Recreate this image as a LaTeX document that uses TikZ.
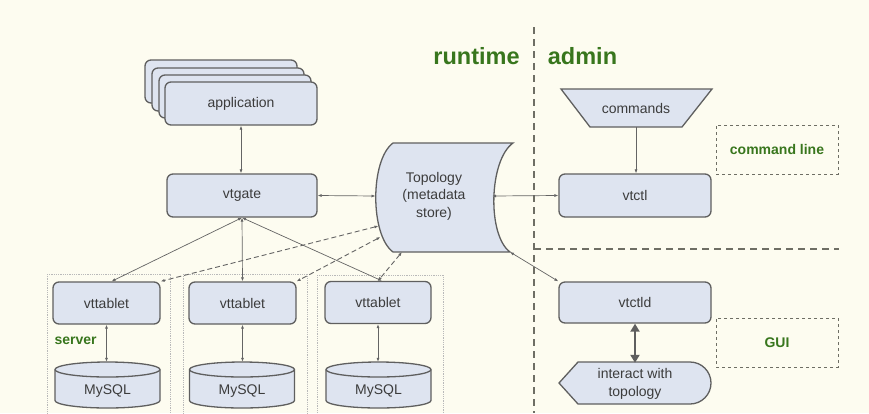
\documentclass[tikz,border=0pt]{standalone}
\usepackage{fontspec}
\setmainfont{Liberation Sans}
\usetikzlibrary{arrows.meta}
\definecolor{bg}{RGB}{253,252,240}
\definecolor{boxfill}{RGB}{222,228,240}
\definecolor{boxline}{RGB}{95,95,95}
\definecolor{txt}{RGB}{60,60,60}
\definecolor{grn}{RGB}{56,118,29}
\definecolor{conncol}{RGB}{100,100,100}
\definecolor{divcol}{RGB}{110,110,100}
\begin{document}
\begin{tikzpicture}[x=1pt,y=-1pt,
  every node/.style={font=\fontsize{14}{17.5}\selectfont, text=txt},
  box/.style={draw=boxline, fill=boxfill, rounded corners=6pt, line width=1.3pt, inner sep=0pt},
  shapeline/.style={draw=boxline, fill=boxfill, line width=1.3pt},
  conn/.style={draw=conncol, line width=0.7pt, {Latex[length=4pt,width=3pt]}-{Latex[length=4pt,width=3pt]}},
  dconn/.style={conn, dash pattern=on 5pt off 3pt, line width=0.9pt},
  grnlabel/.style={font=\bfseries\fontsize{14}{17}\selectfont, text=grn},
  bigtitle/.style={font=\bfseries\fontsize{23.5}{28}\selectfont, text=grn},
  grp/.style={draw=gray!55, densely dotted, line width=0.8pt},
  divider/.style={draw=divcol, line width=1.3pt, dash pattern=on 7pt off 5pt},
  notebox/.style={draw=divcol, dashed, line width=0.7pt, minimum width=122pt, minimum height=49pt, inner sep=0pt}
]
\fill[bg] (0,0) rectangle (869,413);
\useasboundingbox (0,0) rectangle (869,413);
\clip (0,0) rectangle (869,413);

% server groups
\draw[grp] (47,274) rectangle (170,425);
\draw[grp] (183,274) rectangle (307,425);
\draw[grp] (317,275) rectangle (443,425);
\node[grnlabel, anchor=west] (server) at (51,341) {server};

% titles and dividers
\node[bigtitle] (runtime) at (476.5,56) {runtime};
\node[bigtitle] (admin) at (582.5,56) {admin};
\coordinate (dTop) at (534,27);
\coordinate (dBot) at (534,413);
\coordinate (hL) at (534,249);
\coordinate (hR) at (839,249);
\draw[divider] (dTop) -- (dBot);
\draw[divider] (hL) -- (hR);

% application stack
\node[box, minimum width=152pt, minimum height=43pt] (app3) at (221,81.5) {};
\node[box, minimum width=152pt, minimum height=43pt] (app2) at (228,89.5) {};
\node[box, minimum width=152pt, minimum height=43pt] (app1) at (235,96.5) {};
\node[box, minimum width=152pt, minimum height=43pt] (app) at (241,103.5) {application};

\node[box, minimum width=150pt, minimum height=43pt] (vtgate) at (242,195.5) {vtgate};

% topology
\path[shapeline] (393,143) -- (513,143) .. controls (489,160) and (487,235) .. (510,252)
   -- (393,252) .. controls (370,235) and (370,160) .. (393,143) -- cycle;
\node[inner sep=0pt, align=center] (topo) at (434,196) {Topology\\(metadata\\store)};
\coordinate (tW) at (375.5,196);
\coordinate (tE) at (492,196);
\coordinate (tL1) at (378.5,226);
\coordinate (tL2) at (380.5,237);
\coordinate (tB) at (402,252);
\coordinate (tSE) at (510,252);

% vttablets
\node[box, minimum width=107pt, minimum height=42pt] (vt1) at (106.5,303) {vttablet};
\node[box, minimum width=107pt, minimum height=42pt] (vt2) at (242.5,303) {vttablet};
\node[box, minimum width=106pt, minimum height=42pt] (vt3) at (378,302.5) {vttablet};

% MySQL cylinders
\foreach \cx/\nm in {107.5/db1, 242/db2, 378.5/db3}{
  \path[shapeline] (\cx-52.5,369.5) -- (\cx-52.5,400.5)
     arc[start angle=180, end angle=0, x radius=52.5, y radius=7.5]
     -- (\cx+52.5,369.5)
     arc[start angle=360, end angle=180, x radius=52.5, y radius=7.5] -- cycle;
  \draw[draw=boxline, line width=1.3pt] (\cx-52.5,369.5)
     arc[start angle=180, end angle=0, x radius=52.5, y radius=7.5];
  \node[inner sep=0pt, minimum width=105pt, minimum height=58pt] (\nm) at (\cx,391) {MySQL};
}

% admin side
\path[shapeline] (561,89) -- (712,89) -- (682,127) -- (590,127) -- cycle;
\node[inner sep=0pt, minimum width=92pt, minimum height=38pt] (cmds) at (636,108) {commands};
\node[box, minimum width=152pt, minimum height=43pt] (vtctl) at (635,195.5) {vtctl};
\node[box, minimum width=152pt, minimum height=41pt] (vtctld) at (635,302.5) {vtctld};
\path[shapeline] (559,383) -- (578,362) -- (690,362) arc[start angle=-90, end angle=90, radius=21]
   -- (578,404) -- cycle;
\node[inner sep=0pt, align=center, minimum height=42pt, minimum width=152pt] (interact) at (635,384) {interact with\\topology};
\node[notebox, grnlabel] (cmdline) at (777,149.5) {command line};
\node[notebox, grnlabel] (gui) at (777,342.5) {GUI};

% connectors
\draw[conn] (app.south) -- (app.south |- vtgate.north);
\draw[conn] (vtgate.east) -- (tW);
\draw[conn] (tE) -- (vtctl.west);
\draw[conn] (tSE) -- (vtctld.north west);
\draw[conn] (vtgate.south) -- ([xshift=5pt]vt1.north);
\draw[conn] (vtgate.south) -- (vt2.north);
\draw[conn] (vtgate.south) -- ([xshift=4pt]vt3.north);
\draw[dconn] (tL1) -- (vt1.north east);
\draw[dconn] (tL2) -- (vt2.north east);
\draw[dconn] (tB) -- (vt3.north);
\draw[conn] (vt1.south) -- (vt1.south |- db1.north);
\draw[conn] (vt2.south) -- (vt2.south |- db2.north);
\draw[conn] (vt3.south) -- (vt3.south |- db3.north);
\draw[conn, -{Latex[length=4pt,width=3pt]}] (cmds.south) -- (cmds.south |- vtctl.north);
\draw[draw=boxline, line width=2.5pt, {Triangle[length=8pt,width=9pt]}-{Triangle[length=8pt,width=9pt]}] (vtctld.south) -- (interact.north);
\end{tikzpicture}
\end{document}
